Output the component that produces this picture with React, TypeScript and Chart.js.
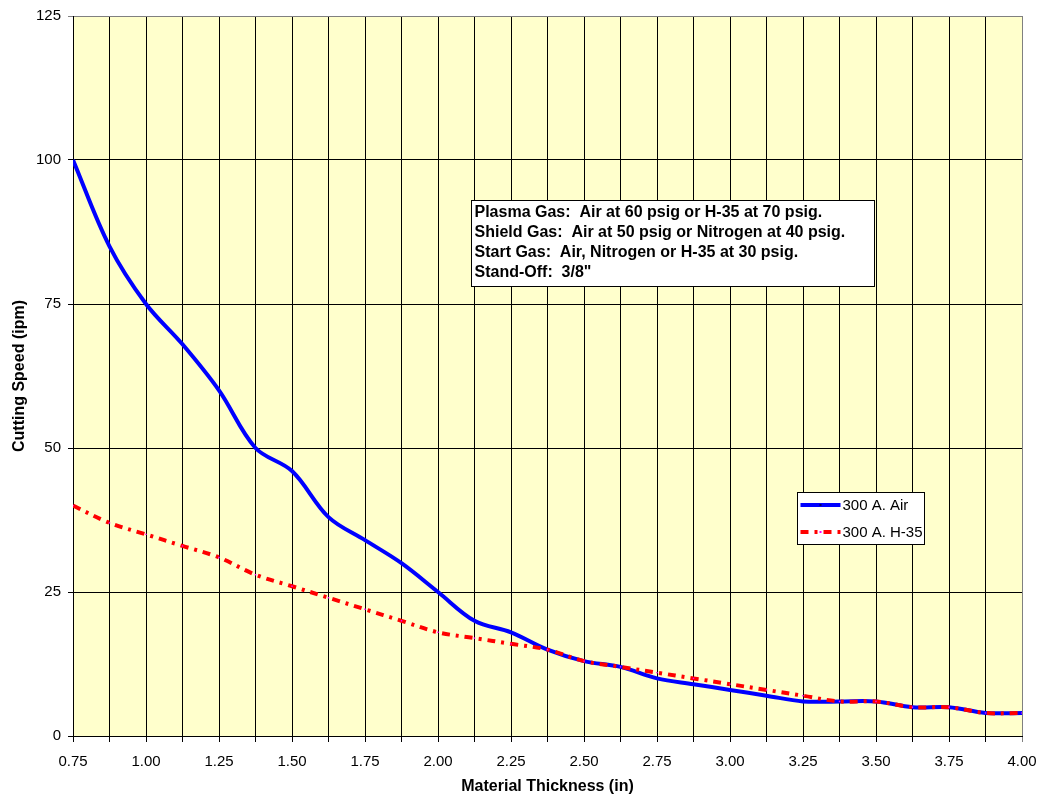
import React, { useEffect, useRef } from 'react';
import { Chart, registerables } from 'chart.js';

Chart.register(...registerables);

// Material thickness (in), every 1/8"
const thickness = [
  0.75, 0.875, 1.0, 1.125, 1.25, 1.375, 1.5, 1.625, 1.75, 1.875, 2.0, 2.125, 2.25, 2.375,
  2.5, 2.625, 2.75, 2.875, 3.0, 3.125, 3.25, 3.375, 3.5, 3.625, 3.75, 3.875, 4.0,
];
// Cutting speed (ipm)
const airSpeed = [100, 85, 75, 68, 60, 50, 46, 38, 34, 30, 25, 20, 18, 15, 13, 12, 10, 9, 8, 7, 6, 6, 6, 5, 5, 4, 4];
const h35Speed = [40, 37, 35, 33, 31, 28, 26, 24, 22, 20, 18, 17, 16, 15, 13, 12, 11, 10, 9, 8, 7, 6, 6, 5, 5, 4, 4];

const seriesNames = ['300 A. Air', '300 A. H-35'];
const yTicks = [0, 25, 50, 75, 100, 125];
const xLabelStep = 0.25;
const xGridStep = 0.125;

const noteLines = [
  'Plasma Gas:  Air at 60 psig or H-35 at 70 psig.',
  'Shield Gas:  Air at 50 psig or Nitrogen at 40 psig.',
  'Start Gas:  Air, Nitrogen or H-35 at 30 psig.',
  'Stand-Off:  3/8"',
];

const FONT = '"Liberation Sans", Arial, Helvetica, sans-serif';

const plotBgPlugin = {
  id: 'plotBg',
  beforeDraw(chart: any) {
    const { ctx, chartArea } = chart;
    ctx.save();
    ctx.fillStyle = '#FFFFCC';
    ctx.fillRect(chartArea.left, chartArea.top, chartArea.right - chartArea.left, chartArea.bottom - chartArea.top);
    ctx.restore();
  },
};

const overlayPlugin = {
  id: 'overlay',
  afterDraw(chart: any) {
    const { ctx } = chart;
    const xs = chart.scales.x;
    const ys = chart.scales.y;
    ctx.save();
    // Note box
    const nx = Math.round(xs.getPixelForValue(2.113)) + 0.5;
    const ny = Math.round(ys.getPixelForValue(93)) + 0.5;
    const nw = 403;
    const nh = 86;
    ctx.fillStyle = '#FFFFFF';
    ctx.fillRect(nx, ny, nw, nh);
    ctx.strokeStyle = '#000000';
    ctx.lineWidth = 1;
    ctx.strokeRect(nx, ny, nw, nh);
    ctx.fillStyle = '#000000';
    ctx.font = `bold 16px ${FONT}`;
    ctx.textBaseline = 'middle';
    ctx.textAlign = 'left';
    noteLines.forEach((line, i) => {
      ctx.fillText(line, nx + 3, ny + 12 + i * 20);
    });

    // Legend box
    const lx = 797.5;
    const ly = 492.5;
    const lw = 127;
    const lh = 52;
    ctx.fillStyle = '#FFFFFF';
    ctx.fillRect(lx, ly, lw, lh);
    ctx.strokeStyle = '#000000';
    ctx.strokeRect(lx, ly, lw, lh);
    ctx.font = `15px ${FONT}`;
    chart.data.datasets.forEach((ds: any) => {
      const idx = seriesNames.indexOf(ds.label);
      const cy = ly + 12.5 + idx * 27;
      ctx.save();
      ctx.strokeStyle = ds.borderColor;
      ctx.lineWidth = ds.borderWidth;
      ctx.setLineDash(ds.borderDash || []);
      ctx.beginPath();
      ctx.moveTo(lx + 3, cy);
      ctx.lineTo(lx + 43, cy);
      ctx.stroke();
      ctx.restore();
      ctx.fillStyle = ds.label === seriesNames[1] ? '#FF00FF' : '#000060';
      ctx.fillRect(lx + 22, cy - 1, 2, 2);
      ctx.fillStyle = '#000000';
      ctx.textBaseline = 'middle';
      ctx.fillText(ds.label, lx + 45, cy + 1);
    });
    ctx.restore();
  },
};

export default function App() {
  const canvasRef = useRef<HTMLCanvasElement | null>(null);

  useEffect(() => {
    if (!canvasRef.current) return;
    const airData = thickness.map((x, i) => ({ x, y: airSpeed[i] }));
    const h35Data = thickness.map((x, i) => ({ x, y: h35Speed[i] }));
    const chart = new Chart(canvasRef.current, {
      type: 'line',
      data: {
        datasets: [
          {
            label: seriesNames[0],
            data: airData,
            borderColor: '#0000FF',
            backgroundColor: '#0000FF',
            borderWidth: 4,
            pointRadius: 0,
            tension: 0.35,
            fill: false,
            order: 1,
          },
          {
            label: seriesNames[1],
            data: h35Data,
            borderColor: '#FF0000',
            backgroundColor: '#FF00FF',
            borderWidth: 4,
            borderDash: [8, 6, 3, 6],
            pointRadius: 1,
            pointBorderWidth: 0,
            pointBackgroundColor: '#FF00FF',
            pointStyle: 'rect',
            tension: 0.35,
            fill: false,
            order: 0,
          },
        ],
      },
      options: {
        responsive: false,
        animation: false,
        devicePixelRatio: 1,
        layout: { padding: { left: 0, right: 20, top: 16, bottom: 0 } },
        plugins: {
          legend: { display: false },
          tooltip: { enabled: false },
          title: { display: false },
        },
        scales: {
          x: {
            type: 'linear',
            min: thickness[0],
            max: thickness[thickness.length - 1],
            afterFit: (scale: any) => {
              scale.height = 61;
              scale.paddingLeft = 0;
              scale.paddingRight = 0;
            },
            ticks: {
              stepSize: xGridStep,
              autoSkip: false,
              maxRotation: 0,
              minRotation: 0,
              color: '#000000',
              padding: 11,
              font: { family: FONT, size: 15 },
              callback: (value: any) => {
                const v = Number(value);
                const r = v / xLabelStep;
                return Math.abs(r - Math.round(r)) < 1e-6 ? v.toFixed(2) : '';
              },
            },
            grid: {
              color: (ctx: any) => (ctx.tick && Math.abs(ctx.tick.value - 4) < 1e-6 ? '#808080' : '#000000'),
              lineWidth: 1,
              tickLength: 6,
              drawTicks: true,
            },
            border: { display: true, color: '#000000', width: 1 },
            title: {
              display: true,
              text: 'Material Thickness (in)',
              color: '#000000',
              font: { family: FONT, size: 16, weight: 'bold' },
              padding: { top: 4, bottom: 1 },
            },
          },
          y: {
            type: 'linear',
            min: yTicks[0],
            max: yTicks[yTicks.length - 1],
            afterFit: (scale: any) => {
              scale.width = 73;
              scale.paddingTop = 0;
              scale.paddingBottom = 0;
            },
            afterBuildTicks: (scale: any) => {
              scale.ticks = yTicks.map((v) => ({ value: v }));
            },
            ticks: {
              color: '#000000',
              padding: 7,
              font: { family: FONT, size: 15 },
              callback: (value: any) => String(value),
            },
            grid: {
              color: (ctx: any) => (ctx.tick && ctx.tick.value === 125 ? '#808080' : '#000000'),
              lineWidth: 1,
              tickLength: 5,
              drawTicks: true,
            },
            border: { display: true, color: '#000000', width: 1 },
            title: {
              display: true,
              text: 'Cutting Speed (ipm)',
              color: '#000000',
              font: { family: FONT, size: 16, weight: 'bold' },
              padding: { top: 10, bottom: 0 },
            },
          },
        },
      },
      plugins: [plotBgPlugin, overlayPlugin],
    });
    return () => chart.destroy();
  }, []);

  return (
    <div style={{ position: 'fixed', left: 0, top: 0, width: 1042, height: 797, background: '#FFFFFF' }}>
      <canvas ref={canvasRef} width={1042} height={797} style={{ display: 'block' }} />
    </div>
  );
}
